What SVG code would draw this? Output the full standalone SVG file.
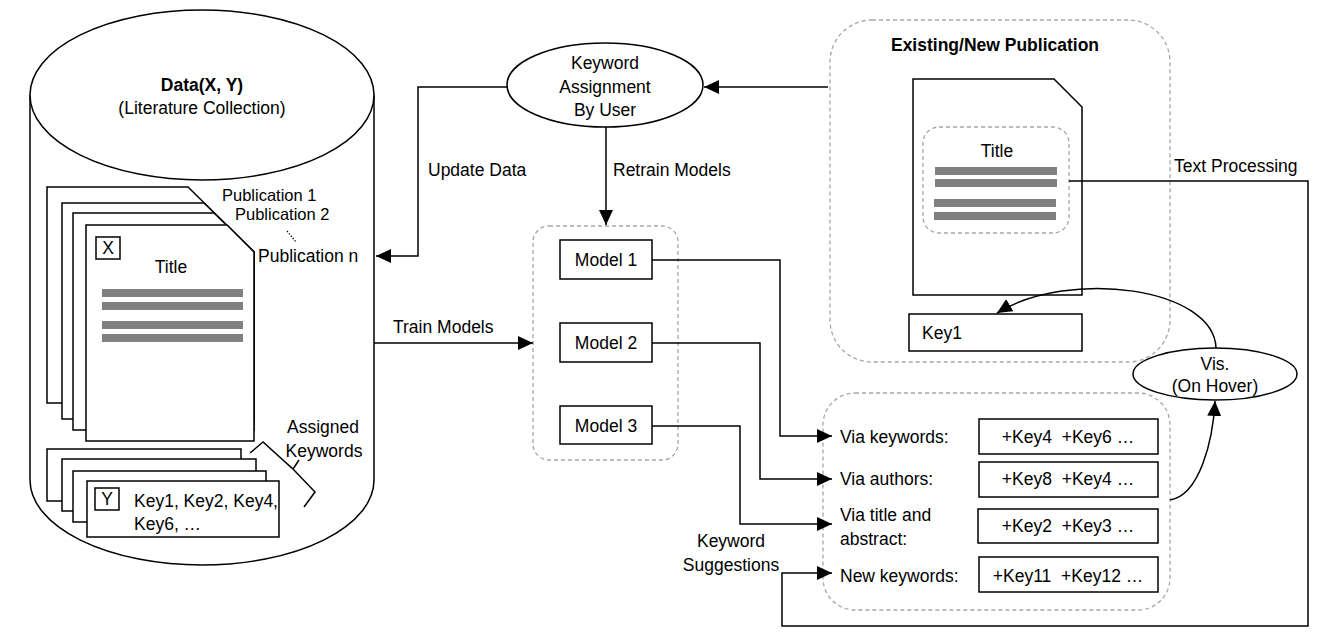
<svg xmlns="http://www.w3.org/2000/svg" width="1320" height="635" viewBox="0 0 1320 635">
<style>
text{font-family:"Liberation Sans",Arial,sans-serif;font-size:17.5px;fill:#000;dominant-baseline:central;white-space:pre}
.c{text-anchor:middle}
.b{font-weight:bold}
.p{font-size:16.5px}
.s{fill:#fff;stroke:#000;stroke-width:1.5}
.d{fill:none;stroke:#a6a6a6;stroke-width:1.3;stroke-dasharray:4 3}
.bar{fill:#808080}
.ln{fill:none;stroke:#000;stroke-width:1.5}
</style>
<defs>
<marker id="ah" markerWidth="15" markerHeight="14" refX="15" refY="7" orient="auto" markerUnits="userSpaceOnUse"><path d="M0,0 L15,7 L0,14 z" fill="#000"/></marker>
</defs>
<rect width="1320" height="635" fill="#fff"/>

<g id="data-cylinder">
<path class="s" d="M30,95 L30,480 A172,85 0 0 0 374,480 L374,95"/>
<ellipse class="s" cx="202" cy="95" rx="172" ry="85"/>
<text class="c b" x="202" y="85">Data(X, Y)</text>
<text class="c" x="202" y="108">(Literature Collection)</text>
</g>

<g id="publications">
<path class="s" d="M47,187 L188,187 L254,252 L254,403 L47,403 Z"/>
<path class="s" d="M62,203 L204,203 L254,252 L254,419 L62,419 Z"/>
<path class="s" d="M73,213 L214,213 L254,252 L254,430 L73,430 Z"/>
<path class="s" d="M86,225 L227,225 L254,252 L254,441 L86,441 Z"/>
<rect class="s" x="96" y="237" width="24" height="22"/>
<text class="c" x="108" y="248">X</text>
<text class="c" x="171" y="267">Title</text>
<rect class="bar" x="102" y="289" width="141" height="8"/>
<rect class="bar" x="102" y="302" width="141" height="8"/>
<rect class="bar" x="102" y="321" width="141" height="8"/>
<rect class="bar" x="102" y="334" width="141" height="8"/>
<text class="p" x="222" y="195">Publication 1</text>
<text class="p" x="235" y="214">Publication 2</text>
<path d="M287,231 L296,242" stroke="#000" stroke-width="1.2" stroke-dasharray="1.5 1.5" fill="none"/>
<text x="258" y="256">Publication n</text>
</g>

<g id="keyword-cards">
<rect class="s" x="47" y="449" width="194" height="52"/>
<rect class="s" x="62" y="459" width="194" height="52"/>
<rect class="s" x="73" y="471" width="193" height="51"/>
<rect class="s" x="87" y="481" width="192" height="56"/>
<rect class="s" x="95" y="488" width="24" height="22"/>
<text class="c" x="107" y="499">Y</text>
<text x="134" y="501">Key1, Key2, Key4,</text>
<text x="134" y="524">Key6, …</text>
<path class="ln" d="M250,453 L263,442 L293,469 L299,460 M293,469 L315,492 L304,507"/>
<text class="c" x="323" y="427">Assigned</text>
<text class="c" x="324" y="451">Keywords</text>
</g>

<g id="keyword-assignment">
<ellipse class="s" cx="605" cy="85" rx="98" ry="42"/>
<text class="c" x="605" y="63">Keyword</text>
<text class="c" x="605" y="87">Assignment</text>
<text class="c" x="605" y="110">By User</text>
</g>

<g id="models">
<rect class="d" x="533" y="226" width="145" height="234" rx="16"/>
<g id="model1"><rect class="s" x="560" y="240" width="92" height="39"/><text class="c" x="606" y="260">Model 1</text></g>
<g id="model2"><rect class="s" x="560" y="323" width="92" height="39"/><text class="c" x="606" y="343">Model 2</text></g>
<g id="model3"><rect class="s" x="560" y="406" width="92" height="38"/><text class="c" x="606" y="426">Model 3</text></g>
</g>

<g id="existing-publication">
<rect class="d" x="830" y="20" width="340" height="342" rx="42"/>
<text class="c b" x="995" y="45">Existing/New Publication</text>
<path class="s" d="M913,79 L1054,79 L1082,107 L1082,295 L913,295 Z"/>
<rect class="d" x="923" y="127" width="146" height="106" rx="16"/>
<text class="c" x="997" y="151">Title</text>
<rect class="bar" x="935" y="167" width="122" height="8"/>
<rect class="bar" x="935" y="179" width="122" height="8"/>
<rect class="bar" x="934" y="199" width="122" height="8"/>
<rect class="bar" x="934" y="212" width="122" height="8"/>
</g>

<g id="key1">
<rect class="s" x="909" y="314" width="173" height="37"/>
<text x="922" y="333">Key1</text>
</g>

<g id="vis">
<ellipse class="s" cx="1215" cy="374" rx="82" ry="26"/>
<text class="c" x="1215" y="364">Vis.</text>
<text class="c" x="1215" y="386">(On Hover)</text>
</g>

<g id="suggestions">
<rect class="d" x="823" y="393" width="347" height="217" rx="32"/>
<text x="840" y="437">Via keywords:</text>
<rect class="s" x="979" y="419" width="179" height="35"/>
<text class="c" x="1068" y="437">+Key4  +Key6 …</text>
<text x="840" y="479">Via authors:</text>
<rect class="s" x="979" y="462" width="179" height="35"/>
<text class="c" x="1068" y="479">+Key8  +Key4 …</text>
<text x="840" y="515">Via title and</text>
<text x="840" y="539">abstract:</text>
<rect class="s" x="978" y="509" width="180" height="34"/>
<text class="c" x="1068" y="526">+Key2  +Key3 …</text>
<text x="840" y="576">New keywords:</text>
<rect class="s" x="979" y="557" width="179" height="35"/>
<text class="c" x="1068" y="576">+Key11  +Key12 …</text>
</g>

<g id="connectors">
<path class="ln" d="M507,87 L418,87 L418,256 L376,256" marker-end="url(#ah)"/>
<text x="428" y="170">Update Data</text>
<path class="ln" d="M828,87 L704,87" marker-end="url(#ah)"/>
<path class="ln" d="M606,127 L606,225" marker-end="url(#ah)"/>
<text x="613" y="170">Retrain Models</text>
<path class="ln" d="M374,343 L533,343" marker-end="url(#ah)"/>
<text x="393" y="327">Train Models</text>
<path class="ln" d="M652,260 L780,260 L780,436 L832,436" marker-end="url(#ah)"/>
<path class="ln" d="M652,343 L760,343 L760,479 L832,479" marker-end="url(#ah)"/>
<path class="ln" d="M652,426 L740,426 L740,524 L832,524" marker-end="url(#ah)"/>
<path class="ln" d="M1069,181 L1308,181 L1308,626 L782,626 L782,573 L832,573" marker-end="url(#ah)"/>
<text x="1174" y="166">Text Processing</text>
<text class="c" x="731" y="541">Keyword</text>
<text class="c" x="731" y="565">Suggestions</text>
<path class="ln" d="M1216,348 C1214,288 1070,268 997,313" marker-end="url(#ah)"/>
<path class="ln" d="M1170,500 C1200,495 1213,440 1215,401" marker-end="url(#ah)"/>
</g>
</svg>
